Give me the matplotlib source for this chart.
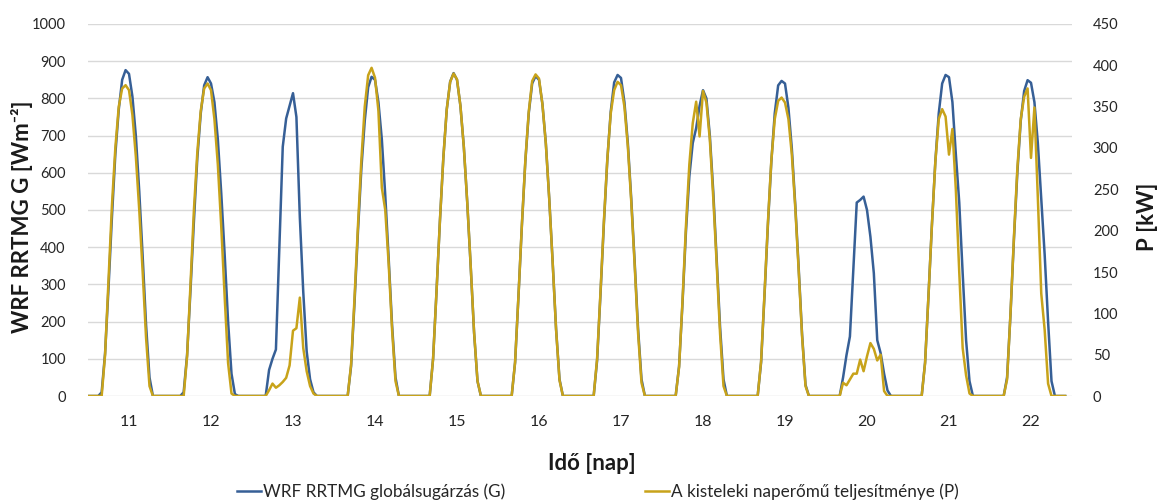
import matplotlib
matplotlib.use('Agg')
import matplotlib.pyplot as plt
from matplotlib.lines import Line2D

plt.rcParams['font.family'] = ['Lato', 'DejaVu Sans']

# napok (tengely feliratok) es napos orak
days = [11, 12, 13, 14, 15, 16, 17, 18, 19, 20, 21, 22]
hours = list(range(5, 21))

# WRF RRTMG globalsugarzas G [W/m2], orankent 5-20 h
g_vals = [
    [10, 115, 290, 480, 650, 770, 850, 876, 866, 805, 700, 550, 375, 190, 50, 0],
    [10, 110, 285, 470, 640, 760, 835, 857, 840, 790, 690, 545, 380, 200, 60, 5],
    [0, 70, 100, 125, 400, 670, 746, 780, 814, 750, 480, 280, 120, 45, 10, 0],
    [0, 80, 250, 440, 610, 740, 830, 858, 850, 790, 690, 540, 370, 190, 50, 0],
    [0, 100, 280, 470, 640, 770, 845, 868, 850, 780, 670, 520, 350, 170, 40, 0],
    [0, 90, 270, 460, 630, 760, 840, 860, 850, 785, 680, 530, 360, 180, 45, 0],
    [0, 95, 275, 465, 635, 765, 843, 863, 855, 790, 680, 530, 360, 180, 45, 0],
    [0, 80, 250, 440, 590, 680, 720, 780, 822, 800, 700, 550, 370, 185, 45, 0],
    [0, 90, 270, 460, 630, 760, 835, 847, 840, 775, 665, 515, 345, 165, 30, 0],
    [0, 50, 110, 160, 340, 520, 527, 536, 500, 428, 330, 150, 115, 60, 15, 0],
    [0, 90, 270, 460, 630, 760, 840, 863, 857, 790, 650, 520, 330, 150, 40, 0],
    [0, 50, 220, 420, 600, 740, 820, 849, 842, 790, 680, 530, 380, 200, 40, 0],
]

# naperomu teljesitmenye P [kW], orankent 5-20 h
p_vals = [
    [0, 50, 140, 230, 300, 350, 372, 376, 370, 340, 290, 225, 150, 70, 12, 0],
    [0, 48, 135, 225, 295, 345, 372, 378, 370, 335, 280, 205, 120, 40, 3, 0],
    [0, 7, 15, 10, 13, 17, 22, 37, 79, 82, 119, 58, 30, 12, 3, 0],
    [0, 38, 118, 205, 285, 350, 388, 397, 385, 345, 252, 225, 160, 80, 18, 0],
    [0, 45, 126, 212, 288, 347, 380, 390, 383, 351, 301, 234, 158, 77, 18, 0],
    [0, 41, 122, 208, 285, 344, 381, 389, 384, 353, 305, 238, 161, 80, 19, 0],
    [0, 45, 126, 212, 287, 342, 370, 380, 376, 350, 302, 235, 158, 76, 16, 0],
    [0, 35, 115, 205, 280, 330, 356, 314, 369, 355, 310, 240, 160, 75, 12, 0],
    [0, 42, 124, 210, 285, 335, 357, 361, 355, 335, 292, 228, 152, 72, 12, 0],
    [0, 16, 13, 20, 27, 27, 44, 30, 48, 64, 57, 43, 50, 6, 0, 0],
    [0, 40, 122, 207, 283, 335, 347, 338, 292, 323, 250, 150, 58, 25, 3, 0],
    [0, 20, 100, 192, 275, 335, 362, 372, 288, 349, 240, 124, 80, 15, 0, 0],
]

# teljes orai idosor (ejjel 0)
x, G, P = [], [], []
for d, g, p in zip(days, g_vals, p_vals):
    for h in range(24):
        x.append(d + (h - 13) / 24)
        if h in hours:
            G.append(g[hours.index(h)])
            P.append(p[hours.index(h)])
        else:
            G.append(0)
            P.append(0)

blue = '#365f96'
gold = '#c8a31a'

fig = plt.figure(figsize=(11.59, 5.04), dpi=100)
ax = fig.add_axes([88/1159, 1 - 396/504, (1072-88)/1159, (396-24)/504])
ax.plot(x, G, color=blue, lw=1.8, zorder=3)
ax.set_xlim(10.5, 22.5)
ax.set_ylim(0, 1000)
ax.set_yticks(range(0, 1001, 100))
ax.set_xticks(days)
ax.set_xticklabels([str(d) for d in days])
ax.yaxis.grid(True, color='#d9d9d9', lw=1)
ax.set_axisbelow(True)
ax.tick_params(axis='y', length=0, labelsize=10.5, pad=16, labelcolor='#262626')
ax.tick_params(axis='x', length=0, labelsize=11.5, pad=14, labelcolor='#262626')
for s in ax.spines.values():
    s.set_visible(False)

ax2 = ax.twinx()
ax2.plot(x, P, color=gold, lw=1.8)
ax2.set_ylim(0, 450)
ax2.set_yticks(range(0, 451, 50))
ax2.tick_params(axis='y', length=0, labelsize=10.5, pad=15, labelcolor='#262626')
for s in ax2.spines.values():
    s.set_visible(False)

fig.text(22/1159, 1 - 217/504, 'WRF RRTMG G [Wm⁻²]', rotation=90, ha='center', va='center',
         fontsize=16, fontweight='bold', color='#1a1a1a')
fig.text(1147/1159, 1 - 217/504, 'P [kW]', rotation=90, ha='center', va='center',
         fontsize=16, fontweight='bold', color='#1a1a1a')
fig.text(592/1159, 1 - 463/504, 'Idő [nap]', ha='center', va='center',
         fontsize=16, fontweight='bold', color='#1a1a1a')

handles = [Line2D([], [], color=blue, lw=1.8), Line2D([], [], color=gold, lw=1.8)]
labels = ['WRF RRTMG globálsugárzás (G)', 'A kisteleki naperőmű teljesítménye (P)']
fig.legend(handles, labels, loc='center', bbox_to_anchor=(598/1159, 1 - 492/504), ncol=2,
           frameon=False, fontsize=12.3, handlelength=1.4, handletextpad=0.1, columnspacing=8.2,
           labelcolor='#262626')

fig.savefig('out.png', dpi=100)
